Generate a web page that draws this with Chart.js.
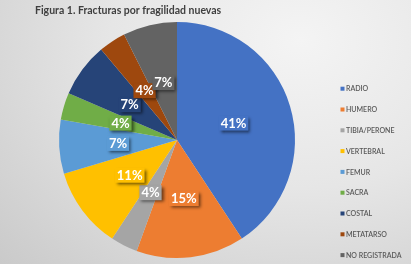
<!DOCTYPE html>
<html>
<head>
<meta charset="utf-8">
<script src="https://cdn.jsdelivr.net/npm/chart.js@4/dist/chart.umd.min.js"></script>
<style>
  html, body { margin: 0; padding: 0; }
  body { width: 411px; height: 264px; overflow: hidden;
    background: radial-gradient(ellipse 420px 330px at 300px 40px, #f4f4f4 0%, #e6e6e6 45%, #c9c9c9 100%); }
  #wrap { position: relative; width: 411px; height: 264px; }
</style>
</head>
<body>
<div id="wrap"><canvas id="c" width="411" height="264"></canvas></div>
<script>
const titleText = "Figura 1. Fracturas por fragilidad nuevas";
const categories = ["RADIO", "HUMERO", "TIBIA/PERONE", "VERTEBRAL", "FEMUR", "SACRA", "COSTAL", "METATARSO", "NO REGISTRADA"];
const counts = [11, 4, 1, 3, 2, 1, 2, 1, 2];
const percentLabels = ["41%", "15%", "4%", "11%", "7%", "4%", "7%", "4%", "7%"];
const colors = ["#4472C4", "#ED7D31", "#A5A5A5", "#FFC000", "#5B9BD5", "#70AD47", "#264478", "#9E480E", "#636363"];

const decorPlugin = {
  id: 'decor',
  afterDatasetsDraw(chart) {
    const ctx = chart.ctx;
    const meta = chart.getDatasetMeta(0);
    ctx.save();
    ctx.font = "bold 13px Lato, 'Open Sans', sans-serif";
    ctx.textAlign = 'center';
    ctx.textBaseline = 'middle';
    meta.data.forEach((arc, i) => {
      const p = arc.getCenterPoint();
      const t = percentLabels[i];
      const w = ctx.measureText(t).width + 4;
      const h = 15;
      ctx.save();
      ctx.shadowColor = 'rgba(0,0,0,0.55)';
      ctx.shadowOffsetX = 2;
      ctx.shadowOffsetY = 2;
      ctx.shadowBlur = 3;
      ctx.fillStyle = colors[i];
      ctx.fillRect(p.x - w / 2, p.y - h / 2, w, h);
      ctx.restore();
      ctx.fillStyle = '#ffffff';
      ctx.fillText(t, p.x, p.y + 0.5);
    });
    ctx.restore();
  },
  afterDraw(chart) {
    const ctx = chart.ctx;
    ctx.save();
    // title
    ctx.fillStyle = '#404040';
    ctx.font = "bold 10.5px Lato, 'Open Sans', sans-serif";
    ctx.textAlign = 'left';
    ctx.textBaseline = 'middle';
    ctx.fillText(titleText, 35, 11);
    // legend
    ctx.font = "600 7px Lato, 'Open Sans', sans-serif";
    categories.forEach((c, i) => {
      const y = 88.7 + i * 20.8;
      ctx.fillStyle = colors[i];
      ctx.fillRect(340.5, y - 2, 4, 4);
      ctx.fillStyle = '#595959';
      ctx.fillText(c, 346, y + 0.5);
    });
    ctx.restore();
  }
};

new Chart(document.getElementById('c'), {
  type: 'pie',
  data: {
    labels: categories,
    datasets: [{
      data: counts,
      backgroundColor: colors,
      borderWidth: 0
    }]
  },
  options: {
    responsive: false,
    animation: false,
    layout: { padding: { left: 59, right: 116, top: 22, bottom: 6 } },
    plugins: {
      legend: { display: false },
      tooltip: { enabled: false },
      title: { display: false }
    }
  },
  plugins: [decorPlugin]
});
</script>
</body>
</html>
